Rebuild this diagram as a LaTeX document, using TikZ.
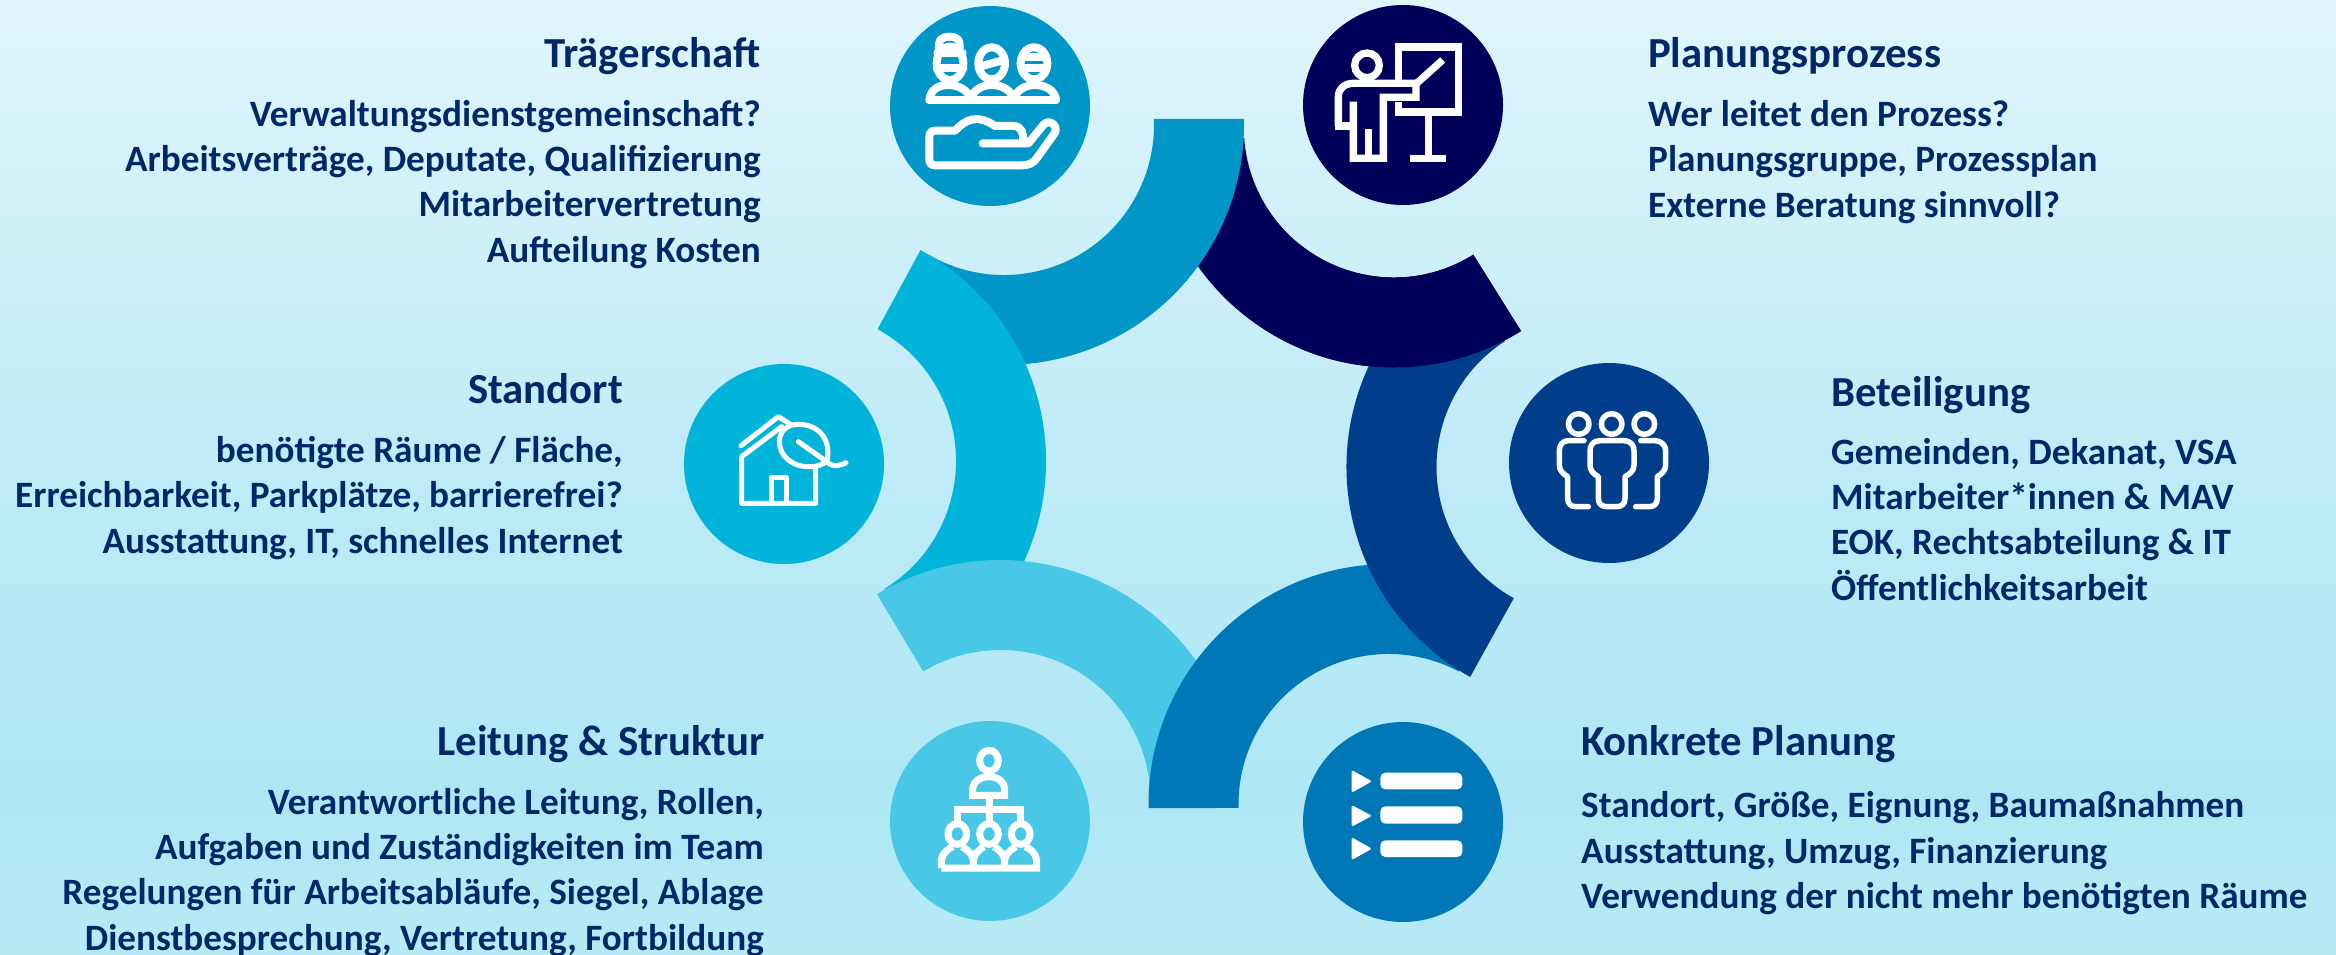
\documentclass[tikz,border=0pt]{standalone}
\usepackage{fontspec}
\setmainfont{Carlito}
\definecolor{cPlan}{RGB}{0,0,90}
\definecolor{cTraeger}{RGB}{0,150,200}
\definecolor{cStandort}{RGB}{0,180,218}
\definecolor{cLeitung}{RGB}{72,200,230}
\definecolor{cKonkret}{RGB}{0,120,184}
\definecolor{cBet}{RGB}{0,61,138}
\definecolor{cText}{RGB}{0,40,104}
\definecolor{bgA}{RGB}{223,245,251}
\definecolor{bgB}{RGB}{190,235,247}
\definecolor{bgC}{RGB}{174,231,244}
\definecolor{bgD}{RGB}{184,234,246}
\pgfdeclareverticalshading{bgshade}{100bp}{color(0bp)=(bgD); color(25bp)=(bgD); color(33.5bp)=(bgC); color(50bp)=(bgB); color(75bp)=(bgA); color(100bp)=(bgA)}
\newcommand{\ringseg}[6]{% cx cy outer-start inner-start end colour
  \fill[#6] ({#1+240*cos(#3)},{#2+240*sin(#3)}) arc[start angle=#3,end angle=#5,radius=240]
    -- ({#1+150*cos(#5)},{#2+150*sin(#5)}) arc[start angle=#5,end angle=#4,radius=150] -- cycle;}
\tikzset{
  disc/.style={circle,inner sep=0pt,minimum size=200pt,fill=#1},
  ttl/.style={font=\fontsize{42.8}{45}\selectfont\bfseries,text=cText,inner sep=0pt},
  bodyr/.style={font=\fontsize{37.2}{45.3}\selectfont\bfseries,text=cText,inner sep=0pt,align=right,anchor=base east},
  bodyl/.style={font=\fontsize{37.2}{45.3}\selectfont\bfseries,text=cText,inner sep=0pt,align=left,anchor=base west},
  ic/.style={draw=white,line width=#1,line join=round,line cap=round},
  iz/.style={x=0.33333pt,y=-0.33333pt},
}
\begin{document}
\begin{tikzpicture}[x=1pt,y=-1pt]
\fill[shading=bgshade] (0,0) rectangle (2336,955);
\useasboundingbox (0,0) rectangle (2336,955);
% arcs (overlap is cyclic)
\ringseg{1393.8}{127.5}{176}{176}{58}{cPlan}
\ringseg{1004}{125}{-1.44}{-2.3}{120}{cTraeger}
\ringseg{806}{461}{-61.5}{-61.5}{58.5}{cStandort}
\ringseg{1000.5}{800}{-121}{-121}{-4}{cLeitung}
\ringseg{1388.5}{804}{179}{178.5}{298}{cKonkret}
\ringseg{1586.5}{467}{119}{119}{237}{cBet}
\begin{scope}
\clip (1300,0) rectangle (2336,955);
\ringseg{1393.8}{127.5}{176}{176}{58}{cPlan}
\end{scope}
% discs
\node[disc=cTraeger] (traeger) at (990,106) {};
\node[disc=cPlan] (plan) at (1403,105) {};
\node[disc=cStandort] (standort) at (784,464) {};
\node[disc=cBet] (bet) at (1609,463) {};
\node[disc=cLeitung] (leitung) at (990,821) {};
\node[disc=cKonkret] (konkret) at (1403,822) {};
% icon Traegerschaft
\begin{scope}[shift={(880,0)},iz,ic=8pt]
\draw (210,190) circle[x radius=40,y radius=50];
\draw (170,205)--(250,205) (172,158)--(248,158);
\draw (178,150) .. controls (172,115) and (190,110) .. (208,110) .. controls (226,110) and (244,115) .. (238,150);
\draw (335,190) circle[x radius=40,y radius=48];
\draw (298,200)--(372,180);
\draw (462,190) circle[x radius=40,y radius=48];
\draw (425,205)--(498,205) (428,170)--(496,170);
\draw (148,300)--(528,300);
\draw (148,300) .. controls (150,270) and (175,255) .. (205,255) .. controls (235,255) and (265,270) .. (272,298);
\draw (272,298) .. controls (280,270) and (305,255) .. (335,255) .. controls (365,255) and (395,270) .. (400,298);
\draw (400,298) .. controls (410,270) and (435,255) .. (465,255) .. controls (495,255) and (525,270) .. (528,300);
\draw (308,430)--(445,430)--(490,375) .. controls (505,355) and (535,375) .. (525,398)--(470,475) .. controls (460,490) and (445,496) .. (425,496)--(165,496) .. controls (152,496) and (148,488) .. (148,478)--(148,410) .. controls (148,398) and (155,392) .. (165,392)--(225,392) .. controls (255,360) and (290,340) .. (345,378)--(400,378) .. controls (425,378) and (430,400) .. (430,420);
\end{scope}
% icon Planungsprozess
\begin{scope}[shift={(1290,0)},iz,ic=7.3pt,line cap=butt,line join=miter]
\draw (231,196) circle[radius=37];
\draw (326,240)--(326,141)--(506,141)--(506,336)--(326,336)--(326,305);
\draw (380,250)--(458,180);
\draw (145,378)--(145,290) .. controls (145,265) and (165,250) .. (190,250)--(378,250)--(378,292)--(280,292)--(280,475)--(190,475)--(190,305);
\draw (134,378)--(190,378);
\draw (235,388)--(235,475);
\draw (416,347)--(416,475) (360,475)--(468,475);
\end{scope}
% icon Standort
\begin{scope}[shift={(670,360)},iz,ic=5pt]
\draw (213,257)--(325,170)--(360,192);
\draw (335,200)--(215,290)--(215,430)--(437,430)--(437,322);
\draw (303,430)--(303,352)--(348,352)--(348,430);
\draw (385,245)--(470,305) .. controls (490,325) and (515,315) .. (528,308);
\draw (470,305) .. controls (485,250) and (455,193) .. (385,193) .. controls (345,193) and (328,220) .. (328,245) .. controls (328,290) and (370,322) .. (420,320) .. controls (440,320) and (455,315) .. (470,305);
\end{scope}
% icon Beteiligung
\begin{scope}[shift={(1500,390)},iz,ic=5.5pt]
\draw (236,102) circle[radius=31] (335,102) circle[radius=31] (433,102) circle[radius=31];
\draw (300,152)--(370,152) .. controls (392,152) and (402,165) .. (402,182)--(402,225) .. controls (402,242) and (390,252) .. (375,260)--(375,325) .. controls (375,342) and (365,350) .. (350,350)--(322,350) .. controls (305,350) and (295,342) .. (295,325)--(295,260) .. controls (280,252) and (270,242) .. (270,225)--(270,182) .. controls (270,165) and (280,152) .. (300,152)--cycle;
\draw (252,152)--(205,152) .. controls (188,152) and (178,165) .. (178,182)--(178,225) .. controls (178,242) and (190,252) .. (203,260)--(203,325) .. controls (203,342) and (213,350) .. (228,350)--(265,350);
\draw (422,152)--(465,152) .. controls (482,152) and (497,165) .. (497,182)--(497,225) .. controls (497,242) and (485,252) .. (472,260)--(472,325) .. controls (472,342) and (462,350) .. (447,350)--(407,350);
\end{scope}
% icon Leitung
\begin{scope}[shift={(880,720)},iz,ic=7pt,line cap=butt,line join=miter]
\draw (327,122) circle[x radius=28,y radius=31];
\draw (278,226)--(278,205) .. controls (280,185) and (300,170) .. (327,170) .. controls (354,170) and (372,185) .. (374,205)--(374,226)--cycle;
\draw (327,235)--(327,305) (232,305)--(232,268)--(422,268)--(422,305);
\foreach \hx in {232,327,422}{\draw (\hx,342) circle[x radius=28,y radius=31];}
\draw (184,444)--(470,444)--(470,420) .. controls (468,400) and (450,386) .. (436,380);
\draw (184,444)--(184,420) .. controls (186,400) and (205,386) .. (218,380);
\draw (280,444)--(280,420) .. controls (282,405) and (292,392) .. (312,380);
\draw (374,444)--(374,420) .. controls (372,405) and (362,392) .. (342,380);
\draw (280,420) .. controls (278,405) and (265,390) .. (246,380);
\draw (374,420) .. controls (376,405) and (389,390) .. (408,380);
\end{scope}
% icon Konkrete Planung
\begin{scope}[shift={(1290,720)},iz]
\foreach \ya/\yb in {150/218,255/320,352/420}{
  \fill[white,rounded corners=1.5pt] (185,\ya)--(246,{(\ya+\yb)/2})--(185,\yb)--cycle;}
\fill[white,rounded corners=5pt] (271,158) rectangle (517,208);
\fill[white,rounded corners=5pt] (271,259) rectangle (517,311);
\fill[white,rounded corners=5pt] (271,361) rectangle (517,411);
\end{scope}
% texts
\node[ttl,anchor=base east] (t1) at (761,68) {Trägerschaft};
\node[bodyr] (b1) at (761,262) {Verwaltungsdienstgemeinschaft?\\Arbeitsverträge, Deputate, Qualifizierung\\Mitarbeitervertretung\\Aufteilung Kosten};
\node[ttl,anchor=base east] (t2) at (623,403) {Standort};
\node[bodyr] (b2) at (623,553) {benötigte Räume / Fläche,\\Erreichbarkeit, Parkplätze, barrierefrei?\\Ausstattung, IT, schnelles Internet};
\node[ttl,anchor=base east] (t3) at (765,755) {Leitung \& Struktur};
\node[bodyr] (b3) at (764,950) {Verantwortliche Leitung, Rollen,\\Aufgaben und Zuständigkeiten im Team\\Regelungen für Arbeitsabläufe, Siegel, Ablage\\Dienstbesprechung, Vertretung, Fortbildung};
\node[ttl,anchor=base west] (t4) at (1648,68) {Planungsprozess};
\node[bodyl] (b4) at (1648,217) {Wer leitet den Prozess?\\Planungsgruppe, Prozessplan\\Externe Beratung sinnvoll?};
\node[ttl,anchor=base west] (t5) at (1831,406) {Beteiligung};
\node[bodyl] (b5) at (1831,600) {Gemeinden, Dekanat, VSA\\Mitarbeiter*innen \& MAV\\EOK, Rechtsabteilung \& IT\\Öffentlichkeitsarbeit};
\node[ttl,anchor=base west] (t6) at (1581,755) {Konkrete Planung};
\node[bodyl] (b6) at (1581,908.5) {Standort, Größe, Eignung, Baumaßnahmen\\Ausstattung, Umzug, Finanzierung\\Verwendung der nicht mehr benötigten Räume};
\end{tikzpicture}
\end{document}
